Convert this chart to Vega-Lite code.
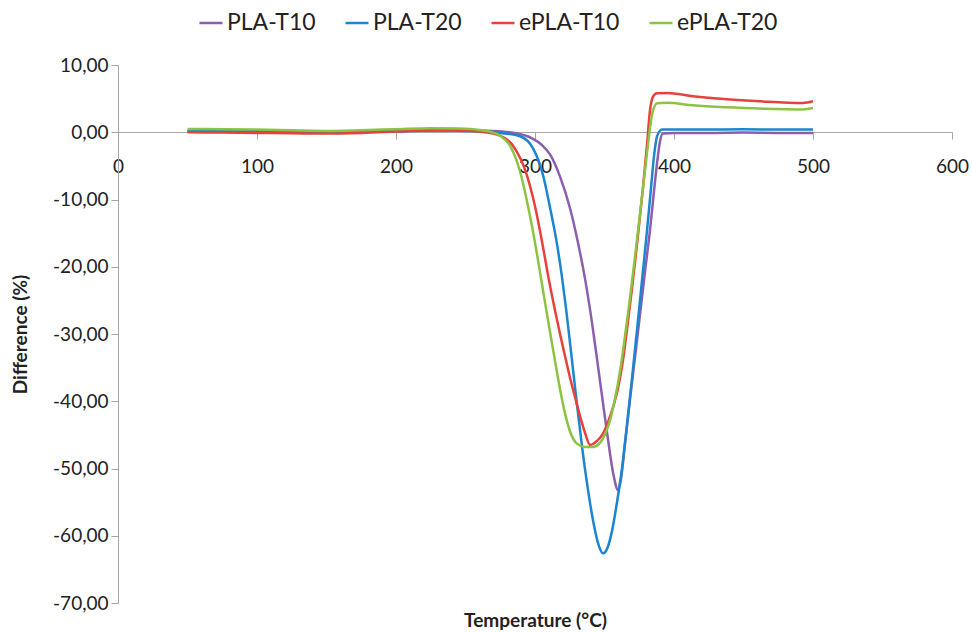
{
  "$schema": "https://vega.github.io/schema/vega-lite/v6.json",
  "width": 834,
  "height": 538,
  "autosize": {"type": "none"},
  "padding": {"left": 118, "top": 65, "right": 20, "bottom": 29},
  "background": "white",
  "config": {"view": {"stroke": null}, "font": "Lato"},
  "data": {
    "values": [
      {"s": "PLA-T10", "t": 50, "d": 0.15},
      {"s": "PLA-T10", "t": 75, "d": 0.2},
      {"s": "PLA-T10", "t": 100, "d": 0.15},
      {"s": "PLA-T10", "t": 125, "d": 0.05},
      {"s": "PLA-T10", "t": 150, "d": 0.0},
      {"s": "PLA-T10", "t": 175, "d": 0.1},
      {"s": "PLA-T10", "t": 200, "d": 0.2},
      {"s": "PLA-T10", "t": 225, "d": 0.3},
      {"s": "PLA-T10", "t": 250, "d": 0.3},
      {"s": "PLA-T10", "t": 270, "d": 0.2},
      {"s": "PLA-T10", "t": 285, "d": -0.1},
      {"s": "PLA-T10", "t": 297.8, "d": -0.9},
      {"s": "PLA-T10", "t": 305, "d": -1.9},
      {"s": "PLA-T10", "t": 310.8, "d": -3.3},
      {"s": "PLA-T10", "t": 318, "d": -6.6},
      {"s": "PLA-T10", "t": 325.2, "d": -11.3},
      {"s": "PLA-T10", "t": 330.9, "d": -16.4},
      {"s": "PLA-T10", "t": 336, "d": -21.8},
      {"s": "PLA-T10", "t": 341, "d": -28.3},
      {"s": "PLA-T10", "t": 345, "d": -34.3},
      {"s": "PLA-T10", "t": 349, "d": -40.4},
      {"s": "PLA-T10", "t": 353, "d": -46.4},
      {"s": "PLA-T10", "t": 356.5, "d": -51.0},
      {"s": "PLA-T10", "t": 359.7, "d": -53.2},
      {"s": "PLA-T10", "t": 361.5, "d": -52.0},
      {"s": "PLA-T10", "t": 364.7, "d": -46.5},
      {"s": "PLA-T10", "t": 368.3, "d": -39.8},
      {"s": "PLA-T10", "t": 371.9, "d": -33.5},
      {"s": "PLA-T10", "t": 375.5, "d": -27.2},
      {"s": "PLA-T10", "t": 379.1, "d": -20.8},
      {"s": "PLA-T10", "t": 382.7, "d": -14.6},
      {"s": "PLA-T10", "t": 385.6, "d": -8.8},
      {"s": "PLA-T10", "t": 387.8, "d": -4.6},
      {"s": "PLA-T10", "t": 389.9, "d": -1.4},
      {"s": "PLA-T10", "t": 392, "d": -0.2},
      {"s": "PLA-T10", "t": 400, "d": -0.1},
      {"s": "PLA-T10", "t": 425, "d": -0.1},
      {"s": "PLA-T10", "t": 450, "d": -0.05},
      {"s": "PLA-T10", "t": 475, "d": -0.1},
      {"s": "PLA-T10", "t": 500, "d": -0.1},

      {"s": "PLA-T20", "t": 50, "d": 0.2},
      {"s": "PLA-T20", "t": 100, "d": 0.15},
      {"s": "PLA-T20", "t": 150, "d": 0.05},
      {"s": "PLA-T20", "t": 200, "d": 0.15},
      {"s": "PLA-T20", "t": 230, "d": 0.25},
      {"s": "PLA-T20", "t": 260, "d": 0.15},
      {"s": "PLA-T20", "t": 275, "d": -0.1},
      {"s": "PLA-T20", "t": 289.2, "d": -0.6},
      {"s": "PLA-T20", "t": 298.6, "d": -2.4},
      {"s": "PLA-T20", "t": 305.8, "d": -6.4},
      {"s": "PLA-T20", "t": 310.8, "d": -11.2},
      {"s": "PLA-T20", "t": 315.8, "d": -16.6},
      {"s": "PLA-T20", "t": 319.4, "d": -21.5},
      {"s": "PLA-T20", "t": 322.5, "d": -26.5},
      {"s": "PLA-T20", "t": 326, "d": -32.8},
      {"s": "PLA-T20", "t": 330.2, "d": -40.5},
      {"s": "PLA-T20", "t": 334, "d": -47.0},
      {"s": "PLA-T20", "t": 338, "d": -53.0},
      {"s": "PLA-T20", "t": 342, "d": -58.0},
      {"s": "PLA-T20", "t": 345.5, "d": -61.2},
      {"s": "PLA-T20", "t": 348.9, "d": -62.6},
      {"s": "PLA-T20", "t": 352.3, "d": -61.7},
      {"s": "PLA-T20", "t": 355.5, "d": -59.2},
      {"s": "PLA-T20", "t": 358.7, "d": -55.4},
      {"s": "PLA-T20", "t": 362.4, "d": -50.3},
      {"s": "PLA-T20", "t": 366.2, "d": -43.4},
      {"s": "PLA-T20", "t": 369.8, "d": -36.6},
      {"s": "PLA-T20", "t": 373.4, "d": -29.4},
      {"s": "PLA-T20", "t": 377, "d": -22},
      {"s": "PLA-T20", "t": 380.6, "d": -14.6},
      {"s": "PLA-T20", "t": 383.5, "d": -8.2},
      {"s": "PLA-T20", "t": 385.6, "d": -3.6},
      {"s": "PLA-T20", "t": 387.8, "d": -0.6},
      {"s": "PLA-T20", "t": 391.4, "d": 0.4},
      {"s": "PLA-T20", "t": 420, "d": 0.4},
      {"s": "PLA-T20", "t": 450, "d": 0.45},
      {"s": "PLA-T20", "t": 475, "d": 0.4},
      {"s": "PLA-T20", "t": 500, "d": 0.4},

      {"s": "ePLA-T10", "t": 50, "d": 0.0},
      {"s": "ePLA-T10", "t": 75, "d": -0.05},
      {"s": "ePLA-T10", "t": 100, "d": -0.1},
      {"s": "ePLA-T10", "t": 125, "d": -0.15},
      {"s": "ePLA-T10", "t": 150, "d": -0.2},
      {"s": "ePLA-T10", "t": 175, "d": -0.1},
      {"s": "ePLA-T10", "t": 200, "d": 0.1},
      {"s": "ePLA-T10", "t": 225, "d": 0.3},
      {"s": "ePLA-T10", "t": 245, "d": 0.35},
      {"s": "ePLA-T10", "t": 260, "d": 0.1},
      {"s": "ePLA-T10", "t": 274.8, "d": -0.5},
      {"s": "ePLA-T10", "t": 284.2, "d": -2.0},
      {"s": "ePLA-T10", "t": 294.2, "d": -6.4},
      {"s": "ePLA-T10", "t": 300, "d": -11.0},
      {"s": "ePLA-T10", "t": 305, "d": -16.2},
      {"s": "ePLA-T10", "t": 309.4, "d": -21.3},
      {"s": "ePLA-T10", "t": 314.4, "d": -26.5},
      {"s": "ePLA-T10", "t": 318, "d": -30.0},
      {"s": "ePLA-T10", "t": 321.6, "d": -33.3},
      {"s": "ePLA-T10", "t": 325.2, "d": -36.5},
      {"s": "ePLA-T10", "t": 328.8, "d": -39.4},
      {"s": "ePLA-T10", "t": 332.4, "d": -42.2},
      {"s": "ePLA-T10", "t": 336, "d": -44.7},
      {"s": "ePLA-T10", "t": 339.6, "d": -46.5},
      {"s": "ePLA-T10", "t": 344.6, "d": -45.9},
      {"s": "ePLA-T10", "t": 348.9, "d": -44.8},
      {"s": "ePLA-T10", "t": 352.5, "d": -43.1},
      {"s": "ePLA-T10", "t": 356.1, "d": -40.9},
      {"s": "ePLA-T10", "t": 359.7, "d": -38.1},
      {"s": "ePLA-T10", "t": 363.3, "d": -33.9},
      {"s": "ePLA-T10", "t": 366.9, "d": -28.1},
      {"s": "ePLA-T10", "t": 370.5, "d": -22.0},
      {"s": "ePLA-T10", "t": 374.1, "d": -15.3},
      {"s": "ePLA-T10", "t": 377.7, "d": -8.2},
      {"s": "ePLA-T10", "t": 380.6, "d": -1.8},
      {"s": "ePLA-T10", "t": 382.7, "d": 3.2},
      {"s": "ePLA-T10", "t": 384.9, "d": 5.3},
      {"s": "ePLA-T10", "t": 387.8, "d": 5.8},
      {"s": "ePLA-T10", "t": 395, "d": 5.85},
      {"s": "ePLA-T10", "t": 413.7, "d": 5.35},
      {"s": "ePLA-T10", "t": 438, "d": 4.9},
      {"s": "ePLA-T10", "t": 461.9, "d": 4.6},
      {"s": "ePLA-T10", "t": 492.8, "d": 4.35},
      {"s": "ePLA-T10", "t": 500, "d": 4.6},

      {"s": "ePLA-T20", "t": 50, "d": 0.5},
      {"s": "ePLA-T20", "t": 75, "d": 0.45},
      {"s": "ePLA-T20", "t": 100, "d": 0.4},
      {"s": "ePLA-T20", "t": 125, "d": 0.3},
      {"s": "ePLA-T20", "t": 150, "d": 0.2},
      {"s": "ePLA-T20", "t": 175, "d": 0.3},
      {"s": "ePLA-T20", "t": 200, "d": 0.45},
      {"s": "ePLA-T20", "t": 225, "d": 0.6},
      {"s": "ePLA-T20", "t": 245, "d": 0.55},
      {"s": "ePLA-T20", "t": 260, "d": 0.35},
      {"s": "ePLA-T20", "t": 267, "d": 0.1},
      {"s": "ePLA-T20", "t": 274.8, "d": -0.5},
      {"s": "ePLA-T20", "t": 282, "d": -2.0},
      {"s": "ePLA-T20", "t": 289.2, "d": -5.8},
      {"s": "ePLA-T20", "t": 295, "d": -11.0},
      {"s": "ePLA-T20", "t": 300, "d": -16.4},
      {"s": "ePLA-T20", "t": 303.6, "d": -20.8},
      {"s": "ePLA-T20", "t": 307.2, "d": -25.3},
      {"s": "ePLA-T20", "t": 310.8, "d": -29.7},
      {"s": "ePLA-T20", "t": 314.4, "d": -34.0},
      {"s": "ePLA-T20", "t": 318, "d": -38.2},
      {"s": "ePLA-T20", "t": 321.6, "d": -41.8},
      {"s": "ePLA-T20", "t": 325.2, "d": -44.5},
      {"s": "ePLA-T20", "t": 330.2, "d": -46.3},
      {"s": "ePLA-T20", "t": 336, "d": -46.8},
      {"s": "ePLA-T20", "t": 341.7, "d": -46.8},
      {"s": "ePLA-T20", "t": 346.8, "d": -46.2},
      {"s": "ePLA-T20", "t": 350.4, "d": -44.9},
      {"s": "ePLA-T20", "t": 354, "d": -42.8},
      {"s": "ePLA-T20", "t": 357.6, "d": -39.6},
      {"s": "ePLA-T20", "t": 361.2, "d": -35.5},
      {"s": "ePLA-T20", "t": 364.7, "d": -30.4},
      {"s": "ePLA-T20", "t": 368.3, "d": -24.7},
      {"s": "ePLA-T20", "t": 371.9, "d": -18.6},
      {"s": "ePLA-T20", "t": 375.5, "d": -12.2},
      {"s": "ePLA-T20", "t": 379.1, "d": -5.8},
      {"s": "ePLA-T20", "t": 381.3, "d": -1.8},
      {"s": "ePLA-T20", "t": 384.2, "d": 2.6},
      {"s": "ePLA-T20", "t": 387.8, "d": 4.3},
      {"s": "ePLA-T20", "t": 395, "d": 4.4},
      {"s": "ePLA-T20", "t": 413.7, "d": 4.0},
      {"s": "ePLA-T20", "t": 438, "d": 3.7},
      {"s": "ePLA-T20", "t": 465, "d": 3.5},
      {"s": "ePLA-T20", "t": 492.8, "d": 3.4},
      {"s": "ePLA-T20", "t": 500, "d": 3.6}
    ]
  },
  "mark": {"type": "line", "strokeWidth": 2.5, "interpolate": "monotone"},
  "encoding": {
    "x": {
      "field": "t",
      "type": "quantitative",
      "scale": {"domain": [0, 600], "nice": false, "zero": false},
      "axis": {
        "title": "Temperature (°C)",
        "values": [0, 100, 200, 300, 400, 500, 600],
        "offset": -471,
        "grid": false,
        "labelFlush": false,
        "tickSize": 7,
        "labelPadding": 18,
        "labelFontSize": 19,
        "labelColor": "#222222",
        "domainColor": "#A6A6A6",
        "tickColor": "#A6A6A6",
        "titleFontSize": 19,
        "titleFontWeight": "bold",
        "titleColor": "#222222",
        "titleX": 417,
        "titleY": 488,
        "titleBaseline": "middle"
      }
    },
    "y": {
      "field": "d",
      "type": "quantitative",
      "scale": {"domain": [-70, 10], "nice": false, "zero": false},
      "axis": {
        "title": "Difference (%)",
        "values": [-70, -60, -50, -40, -30, -20, -10, 0, 10],
        "labelExpr": "toString(datum.value) + ',00'",
        "grid": false,
        "labelFlush": false,
        "tickSize": 7,
        "labelPadding": 3,
        "labelFontSize": 19,
        "labelColor": "#222222",
        "domainColor": "#A6A6A6",
        "tickColor": "#A6A6A6",
        "titleFontSize": 19,
        "titleFontWeight": "bold",
        "titleColor": "#222222",
        "titleX": -98,
        "titleY": 269,
        "titleBaseline": "middle"
      }
    },
    "color": {
      "field": "s",
      "type": "nominal",
      "scale": {
        "domain": ["PLA-T10", "PLA-T20", "ePLA-T10", "ePLA-T20"],
        "range": ["#8B5EAF", "#1B86CF", "#E8413B", "#8DC342"]
      },
      "legend": {
        "title": null,
        "orient": "none",
        "direction": "horizontal",
        "legendX": 80,
        "legendY": -55,
        "symbolType": "stroke",
        "symbolSize": 529,
        "symbolStrokeWidth": 2.5,
        "labelFontSize": 23,
        "labelColor": "#222222",
        "labelOffset": 3,
        "columnPadding": 24
      }
    }
  }
}
